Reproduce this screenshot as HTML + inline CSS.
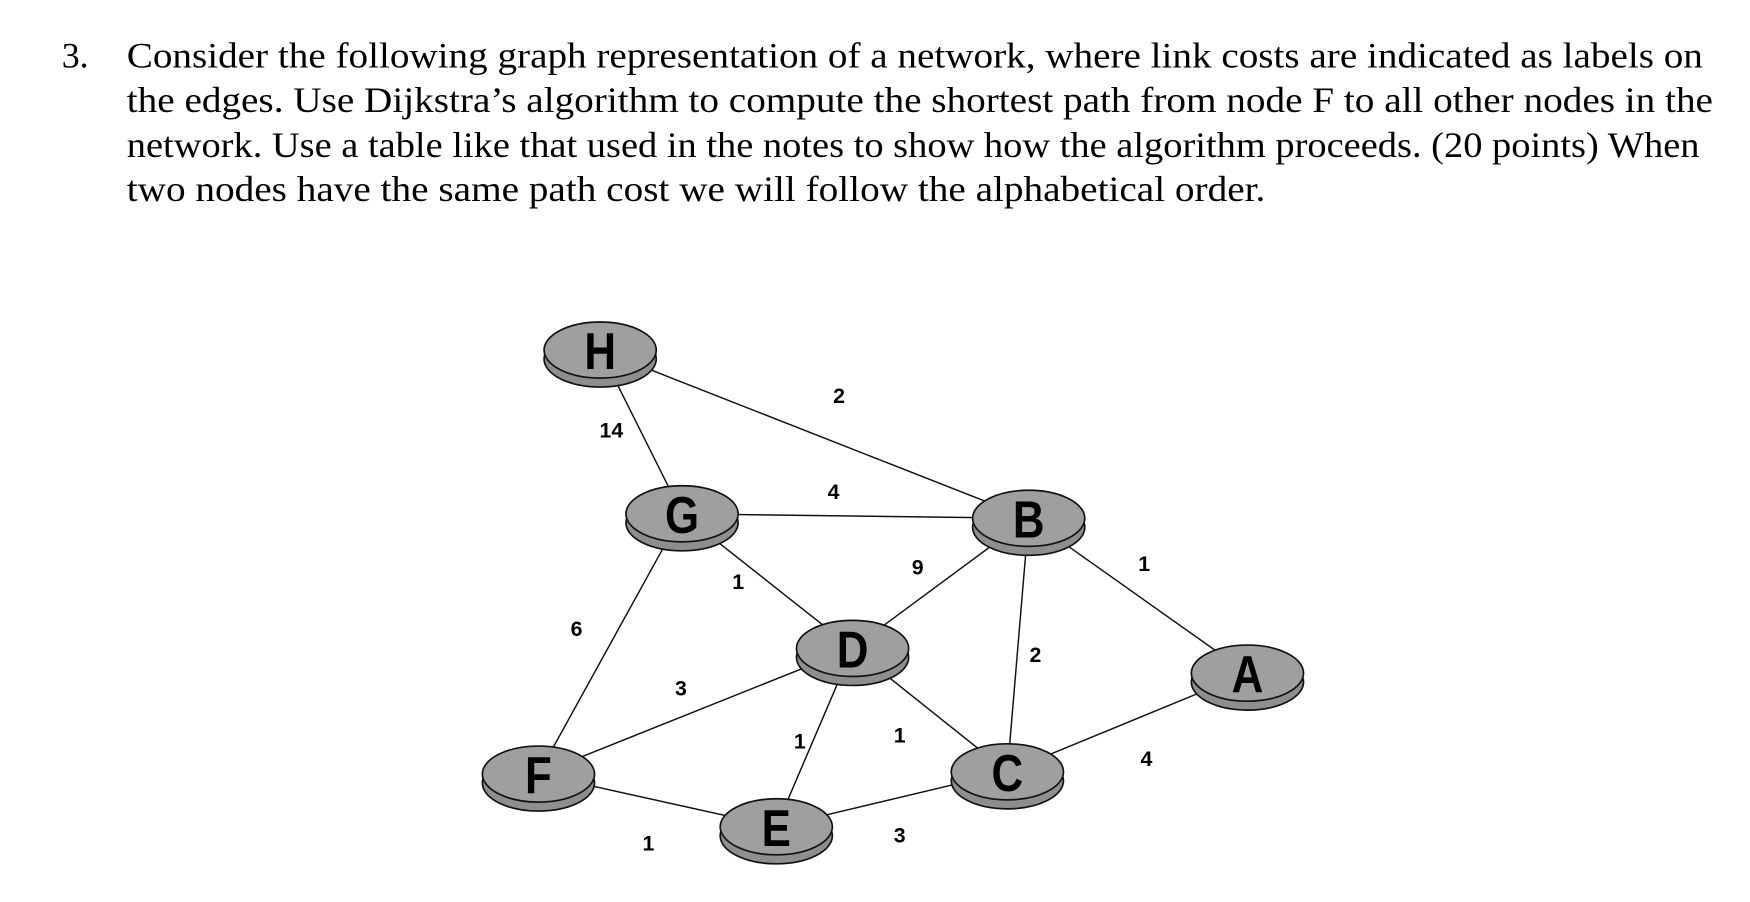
<!DOCTYPE html>
<html><head><meta charset="utf-8"><style>
html,body{margin:0;padding:0;background:#fff;}
svg{display:block;}
</style></head><body>
<svg width="1750" height="902" viewBox="0 0 1560 804" xmlns="http://www.w3.org/2000/svg">
<g font-family="'Liberation Serif', serif" font-size="32" fill="#000">
<text x="55" y="60">3.</text>
<text x="113" y="60" textLength="1405" lengthAdjust="spacingAndGlyphs">Consider the following graph representation of a network, where link costs are indicated as labels on</text>
<text x="113" y="100" textLength="1414" lengthAdjust="spacingAndGlyphs">the edges. Use Dijkstra’s algorithm to compute the shortest path from node F to all other nodes in the</text>
<text x="113" y="140" textLength="1402" lengthAdjust="spacingAndGlyphs">network. Use a table like that used in the notes to show how the algorithm proceeds. (20 points) When</text>
<text x="113" y="179" textLength="1015" lengthAdjust="spacingAndGlyphs">two nodes have the same path cost we will follow the alphabetical order.</text>
</g>
<g id="edges"></g>
<g id="labels" font-family="'Liberation Sans', sans-serif" font-weight="bold" font-size="19" text-anchor="middle"></g>
<g id="nodes"></g>
</svg>
<script>
const nodeNames = ["H","G","B","D","A","F","C","E"];
const nodeX = [535,608,917,760,1112,480,898,692];
const nodeY = [312,458,462,578,600,690,688,737];
const edgeFrom = ["H","H","G","G","G","B","B","B","D","D","D","F","E","C"];
const edgeTo   = ["B","G","B","D","F","D","C","A","F","E","C","E","C","A"];
const edgeCost = ["2","14","4","1","6","9","2","1","3","1","1","1","3","4"];
const labelX = [748,545,743,658,514,818,923,1020,607,713,802,578,802,1022];
const labelY = [359,390,445,525,567,512,590,509,620,667,662,758,751,683];

const NS="http://www.w3.org/2000/svg";
const eg=document.getElementById('edges'), lg=document.getElementById('labels'), ng=document.getElementById('nodes');
function pos(n){const i=nodeNames.indexOf(n);return [nodeX[i],nodeY[i]];}
edgeFrom.forEach((f,i)=>{
  const a=pos(f), b=pos(edgeTo[i]);
  const l=document.createElementNS(NS,'line');
  l.setAttribute('x1',a[0]);l.setAttribute('y1',a[1]);l.setAttribute('x2',b[0]);l.setAttribute('y2',b[1]);
  l.setAttribute('stroke','#111');l.setAttribute('stroke-width','1.3');
  
  
  eg.appendChild(l);
  const t=document.createElementNS(NS,'text');
  t.setAttribute('x',labelX[i]);t.setAttribute('y',labelY[i]);t.textContent=edgeCost[i];
  
  
  lg.appendChild(t);
});
nodeNames.forEach((n,i)=>{
  const g=document.createElementNS(NS,'g');
  
  
  const cx=nodeX[i], cy=nodeY[i];
  const e2=document.createElementNS(NS,'ellipse');
  e2.setAttribute('cx',cx);e2.setAttribute('cy',cy+8);e2.setAttribute('rx',50);e2.setAttribute('ry',25);
  e2.setAttribute('fill','#8e8e8e');e2.setAttribute('stroke','#111');e2.setAttribute('stroke-width','1.5');
  const e1=document.createElementNS(NS,'ellipse');
  e1.setAttribute('cx',cx);e1.setAttribute('cy',cy);e1.setAttribute('rx',50);e1.setAttribute('ry',25);
  e1.setAttribute('fill','#9f9f9f');e1.setAttribute('stroke','#111');e1.setAttribute('stroke-width','1.5');
  const t=document.createElementNS(NS,'text');
  t.setAttribute('x',cx);t.setAttribute('y',cy+17);t.setAttribute('text-anchor','middle');
  t.setAttribute('font-family',"'Liberation Sans', sans-serif");t.setAttribute('font-weight','bold');t.setAttribute('font-size','46');
  t.setAttribute('transform','translate('+cx+' 0) scale(0.85 1) translate('+(-cx)+' 0)');
  t.textContent=n;
  g.appendChild(e2);g.appendChild(e1);g.appendChild(t);
  ng.appendChild(g);
});
</script>
</body></html>
